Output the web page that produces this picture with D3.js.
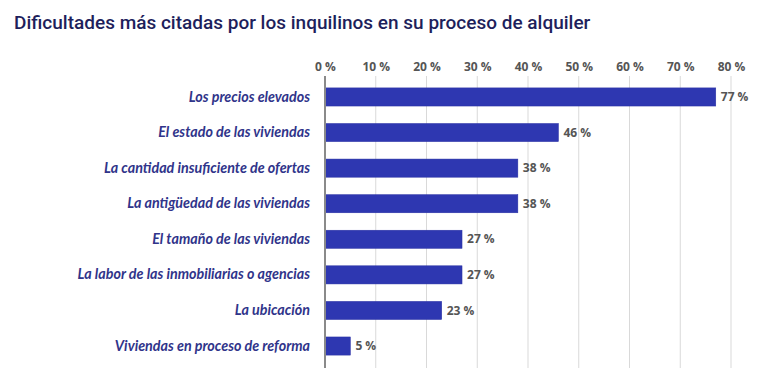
<!DOCTYPE html>
<html><head><meta charset="utf-8">
<script src="https://cdn.jsdelivr.net/npm/d3@7/dist/d3.min.js"></script>
<style>body{margin:0;background:#fff}svg{display:block}</style>
</head><body><svg id="c" width="768" height="379"></svg>
<script>
const categories = ["Los precios elevados","El estado de las viviendas","La cantidad insuficiente de ofertas","La antigüedad de las viviendas","El tamaño de las viviendas","La labor de las inmobiliarias o agencias","La ubicación","Viviendas en proceso de reforma"];
const values = [77,46,38,38,27,27,23,5];
const tickValues = [0,10,20,30,40,50,60,70,80];
const title = "Dificultades más citadas por los inquilinos en su proceso de alquiler";

const svg = d3.select("#c");
svg.append("text").attr("x",14).attr("y",29).text(title)
  .attr("font-family","Roboto, 'Open Sans', sans-serif").attr("font-size",19)
  .attr("fill","#1e1f5c").attr("font-weight",500);

const x = d3.scaleLinear().domain([0,80]).range([325,731]);
const y = d3.scaleBand().domain(categories).range([79,364]).paddingInner(0.49).paddingOuter(0.25);

// grid
svg.append("g").selectAll("line").data(tickValues.slice(1)).join("line")
  .attr("x1",d=>x(d)).attr("x2",d=>x(d)).attr("y1",76).attr("y2",368)
  .attr("stroke","#d9d9d9").attr("stroke-width",1);

// top tick labels
const ax = d3.axisTop(x).tickValues(tickValues).tickFormat(d=>d+" %").tickSize(0).tickPadding(0);
const gx = svg.append("g").attr("transform","translate(0,71)").call(ax);
gx.select(".domain").remove();
gx.selectAll("text").attr("font-family","'Open Sans', sans-serif").attr("font-size",12)
  .attr("font-weight",700).attr("fill","#555");

// bars
svg.append("g").selectAll("rect").data(values).join("rect")
  .attr("x",x(0)).attr("y",(d,i)=>y(categories[i]))
  .attr("width",d=>x(d)-x(0)).attr("height",y.bandwidth())
  .attr("fill","#2e37b1").attr("stroke","#2a31a3").attr("stroke-width",0.5);

// zero axis line
svg.append("line").attr("x1",x(0)).attr("x2",x(0)).attr("y1",76).attr("y2",368)
  .attr("stroke","#8a8a8a").attr("stroke-width",2);

// category labels
const ay = d3.axisLeft(y).tickSize(0).tickPadding(15);
const gy = svg.append("g").attr("transform",`translate(${x(0)},0)`).call(ay);
gy.select(".domain").remove();
gy.selectAll("text").attr("font-family","Lato, 'Open Sans', sans-serif").attr("font-size",14.3)
  .attr("font-style","italic").attr("fill","#30348a").attr("font-weight",700);

// value labels
svg.append("g").selectAll("text").data(values).join("text")
  .attr("x",d=>x(d)+5).attr("y",(d,i)=>y(categories[i])+y.bandwidth()/2)
  .attr("dy","0.35em").text(d=>d+" %")
  .attr("font-family","'Open Sans', sans-serif").attr("font-size",12)
  .attr("font-weight",700).attr("fill","#555");
</script></body></html>
